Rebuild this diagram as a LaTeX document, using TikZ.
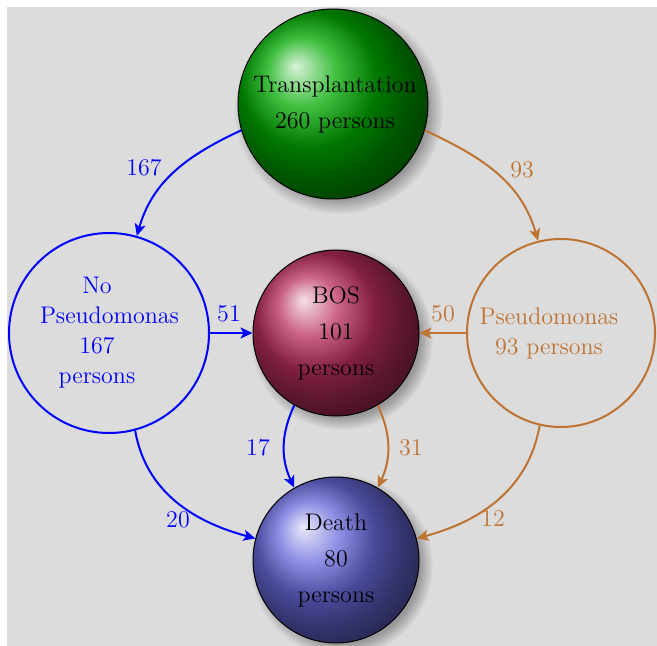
\documentclass[tikz,border=0pt]{standalone}
\usetikzlibrary{shadows,arrows.meta}
\definecolor{bgrey}{RGB}{220,220,220}
\definecolor{arrbrown}{RGB}{190,115,50}
\definecolor{greenball}{RGB}{0,170,0}
\definecolor{bosball}{RGB}{185,45,95}
\definecolor{deathball}{RGB}{105,105,220}
\tikzset{
  ball/.style={circle, draw=black, line width=0.5pt, inner sep=0pt,
    circular drop shadow={shadow xshift=2.5pt, shadow yshift=-2.5pt, fill=black!40}},
  balltext/.style={align=center, font=\fontsize{12}{18}\selectfont},
  ringtext/.style={align=center, font=\fontsize{12}{15}\selectfont},
  flow/.style={line width=1pt, -{Stealth[length=6pt,width=5.5pt,inset=1.5pt]}},
  bluef/.style={flow, draw=blue},
  brownf/.style={flow, draw=arrbrown},
  bluel/.style={text=blue, font=\fontsize{12}{14}\selectfont},
  brownl/.style={text=arrbrown, font=\fontsize{12}{14}\selectfont},
}
\begin{document}
\begin{tikzpicture}[x=0.5pt,y=0.5pt]
\useasboundingbox (0,0) rectangle (657,-646);
\fill[white] (0,0) rectangle (657,-646);
\fill[bgrey] (7,-7) rectangle (657,-646);

% balls
\node[ball, ball color=greenball, minimum size=95pt] (tp) at (333,-104) {};
\node[balltext] (tpt) at (335,-105) {Transplantation\\260 persons};
\node[ball, ball color=bosball, minimum size=83pt] (bos) at (336,-333) {};
\node[balltext] (bost) at (336,-333) {BOS\\101\\persons};
\node[ball, ball color=deathball, minimum size=83pt] (death) at (336,-560) {};
\node[balltext] (deatht) at (336,-560) {Death\\80\\persons};

% rings
\node[circle, draw=blue, line width=1pt, minimum size=100pt, inner sep=0pt] (np) at (109,-333) {};
\node[ringtext, text=blue, text width=57pt] (npt) at (97,-333) {No\\Pseudomonas\\167\\persons};
\node[circle, draw=arrbrown, line width=1pt, minimum size=94pt, inner sep=0pt] (ps) at (561,-333) {};
\node[ringtext, text=arrbrown] (pst) at (549,-333) {Pseudomonas\\93 persons};

% connectors
\draw[bluef] (tp.196) to[out=205, in=74] (np.74);
\draw[brownf] (tp.344) to[out=-25, in=106] (ps.104);
\draw[bluef] (np.0) -- (bos.180);
\draw[brownf] (ps.180) -- (bos.0);
\draw[bluef] (bos.240) to[out=245, in=115] (death.120);
\draw[brownf] (bos.300) to[out=295, in=65] (death.60);
\draw[bluef] (np.285) to[out=-80, in=165] (death.165);
\draw[brownf] (ps.257) to[out=-100, in=15] (death.15);

% labels
\node[bluel] (l167) at (144,-168) {167};
\node[brownl] (l93) at (522,-170) {93};
\node[bluel] (l51) at (229,-314) {51};
\node[brownl] (l50) at (443,-314) {50};
\node[bluel] (l17) at (258,-448) {17};
\node[brownl] (l31) at (411,-448) {31};
\node[bluel] (l20) at (178,-520) {20};
\node[brownl] (l12) at (493,-519) {12};
\end{tikzpicture}
\end{document}
